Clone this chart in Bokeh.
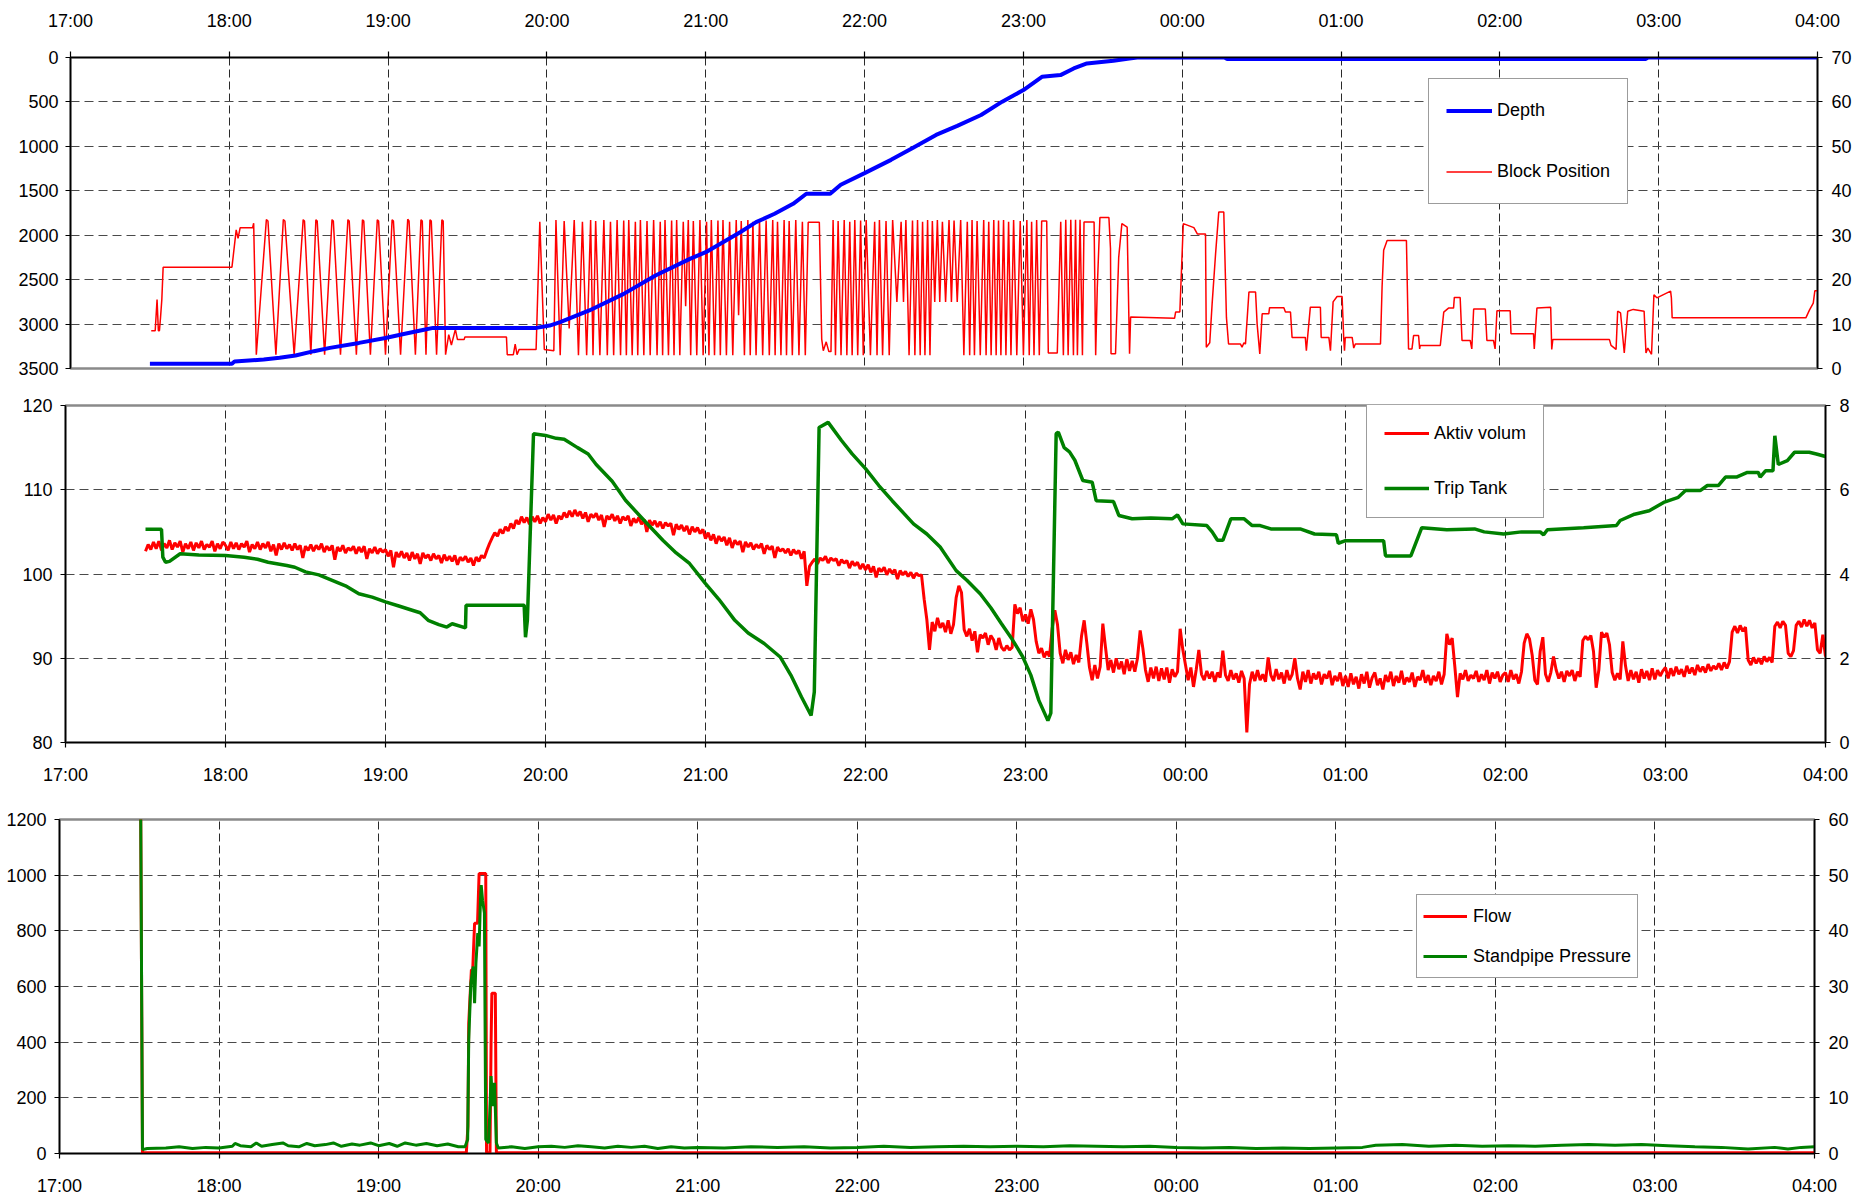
import numpy as np
from bokeh.plotting import figure
from bokeh.models import Range1d, LinearAxis, FixedTicker, Legend, LegendItem
from bokeh.embed import file_html
from bokeh.resources import INLINE

FONT = "Liberation Sans"
FS = "18px"

# ---------------- axis ticks / labels ----------------
HOUR_TICKS = list(range(12))  # hours after 17:00
HOUR_LABELS = ["17:00", "18:00", "19:00", "20:00", "21:00", "22:00",
               "23:00", "00:00", "01:00", "02:00", "03:00", "04:00"]
DEPTH_TICKS = [0, 500, 1000, 1500, 2000, 2500, 3000, 3500]
BLOCK_TICKS = [0, 10, 20, 30, 40, 50, 60, 70]
AKTIV_TICKS = [80, 90, 100, 110, 120]
TRIP_TICKS = [0, 2, 4, 6, 8]
FLOW_TICKS = [0, 200, 400, 600, 800, 1000, 1200]
SPP_TICKS = [0, 10, 20, 30, 40, 50, 60]

# ---------------- data (minutes after 17:00, value) ----------------
DEPTH = [(30, 3447), (61, 3447), (62, 3420), (73, 3399), (79, 3380), (85, 3354),
         (92, 3305), (98, 3268), (109, 3212), (119, 3156), (125, 3118), (134, 3062),
         (137, 3043), (176, 3043), (181, 3017), (185, 2979), (196, 2847), (209, 2660),
         (221, 2453), (234, 2266), (240, 2191), (253, 1966), (259, 1853), (266, 1759),
         (273, 1647), (278, 1533), (287, 1533), (291, 1432), (300, 1301), (310, 1152),
         (318, 1021), (327, 871), (335, 770), (344, 647), (352, 497), (360, 366),
         (367, 217), (374, 198), (379, 123), (384, 67), (394, 37), (400, 11), (403, 0),
         (436, 0), (437, 18), (595, 18), (596, 0), (660, 0)]

BLOCK_POS = [
    (30.5, 8.5), (32.0, 8.5), (32.7, 15.5), (33.2, 8.5), (33.6, 8.5), (34.0, 11.4),
    (34.5, 15.5), (35.0, 22.8), (61.0, 22.8), (62.6, 31.2), (63.3, 29.3), (64.1, 31.7),
    (68.8, 31.7), (69.2, 32.7), (70.2, 3.1),
    (74.0, 33.5), (74.6, 33.2), (77.6, 3.1), (80.4, 33.5), (81.0, 33.2), (84.5, 3.1),
    (87.9, 33.5), (88.4, 33.2), (90.8, 3.1), (92.7, 33.5), (93.2, 33.2), (96.0, 3.1),
    (98.8, 33.5), (99.3, 33.2), (102.0, 3.1), (104.8, 33.5), (105.3, 33.2), (108.0, 3.1),
    (110.3, 33.5), (110.8, 33.2), (113.3, 3.1), (115.9, 33.5), (116.4, 33.2), (119.0, 3.1),
    (121.5, 33.5), (122.0, 33.2), (124.7, 3.1), (127.4, 33.6), (127.9, 33.2), (130.3, 3.1),
    (132.4, 33.5), (132.9, 33.2), (134.3, 3.1), (135.8, 33.5), (136.3, 33.2), (138.3, 3.1),
    (140.3, 33.5), (140.8, 33.2), (141.7, 3.1),
    (142.9, 7.6), (143.9, 5.3), (145.4, 8.8), (146.2, 6.5), (148.7, 6.5), (149.0, 7.1),
    (164.7, 7.1), (165.0, 3.1), (167.3, 3.1), (168.0, 5.5), (168.7, 3.1), (169.5, 4.3),
    (175.9, 4.3), (177.3, 33.0), (179.0, 4.3), (182.6, 4.0),
    # dense tripping 20:00 - 21:40
    (183.4, 33.4), (185.0, 3.0), (186.5, 33.2), (188.4, 9.0), (190.3, 33.4), (191.9, 3.0),
    (193.4, 33.0), (195.0, 3.0), (196.5, 33.4), (197.4, 3.0), (198.4, 33.2), (200.0, 3.0),
    (201.5, 33.4), (202.8, 3.0), (204.0, 33.0), (205.2, 3.0), (206.5, 33.4), (207.8, 3.0),
    (209.0, 33.3), (210.0, 3.0), (210.9, 33.4), (212.2, 3.0), (213.4, 33.0), (214.3, 3.0),
    (215.3, 33.4), (216.6, 3.0), (217.8, 33.2), (219.0, 3.0), (220.3, 33.4), (221.6, 3.0),
    (222.8, 33.0), (223.7, 3.0), (224.6, 33.4), (225.9, 3.0), (227.1, 33.3), (228.0, 3.0),
    (229.0, 33.4), (230.2, 3.0), (231.5, 33.0), (232.4, 14.0), (233.4, 33.4), (234.3, 3.0),
    (235.3, 33.2), (236.6, 3.0), (237.8, 33.4), (239.0, 3.0), (240.3, 33.0), (241.2, 3.0),
    (242.1, 33.4), (243.3, 3.0), (244.6, 33.3), (245.5, 3.0), (246.5, 33.4), (247.8, 3.0),
    (249.0, 33.0), (250.2, 3.0), (251.5, 33.4), (252.4, 12.0), (253.4, 33.2), (254.6, 3.0),
    (255.9, 33.4), (256.8, 3.0), (257.8, 33.0), (259.0, 3.0), (260.3, 33.4), (261.5, 3.0),
    (262.8, 33.3), (264.0, 3.0), (265.3, 33.4), (266.2, 3.0), (267.1, 33.0), (268.4, 3.0),
    (269.6, 33.4), (270.5, 3.0), (271.5, 33.2), (272.7, 3.0), (274.0, 33.4), (275.2, 3.0),
    (276.5, 33.0), (277.6, 3.0), (278.7, 32.9), (282.9, 32.9), (283.8, 6.6), (284.4, 4.0),
    (285.5, 6.0), (286.5, 3.8), (287.3, 3.8),
    # dense tripping 21:47 - 23:10
    (288.1, 33.4), (289.0, 3.0), (290.0, 33.2), (291.1, 3.0), (292.3, 33.4), (293.3, 3.0),
    (294.4, 33.0), (295.3, 3.0), (296.3, 33.4), (297.4, 3.0), (298.5, 33.3), (299.5, 3.0),
    (300.6, 33.4), (302.2, 3.0), (303.8, 33.0), (304.7, 3.0), (305.6, 33.4), (306.8, 3.0),
    (308.1, 33.2), (309.3, 3.0), (310.6, 33.4), (312.2, 15.0), (313.8, 33.0), (314.7, 15.0),
    (315.6, 33.4), (316.8, 3.0), (318.1, 33.3), (319.0, 3.0), (320.0, 33.4), (321.0, 3.0),
    (321.9, 33.0), (322.8, 3.0), (323.8, 33.4), (324.7, 3.0), (325.6, 33.2), (326.5, 15.0),
    (327.5, 33.4), (328.4, 15.0), (329.4, 33.0), (330.6, 15.0), (331.9, 33.4), (332.8, 15.0),
    (333.8, 33.3), (335.0, 15.0), (336.3, 33.4), (337.5, 3.0), (338.8, 33.0), (339.7, 3.0),
    (340.6, 33.4), (341.5, 3.0), (342.5, 33.2), (343.7, 3.0), (345.0, 33.4), (345.9, 3.0),
    (346.9, 33.0), (347.8, 3.0), (348.8, 33.4), (349.7, 3.0), (350.6, 33.3), (351.5, 3.0),
    (352.5, 33.4), (353.4, 3.0), (354.4, 33.0), (355.3, 3.0), (356.3, 33.4), (357.5, 3.0),
    (358.8, 33.2), (360.0, 3.0), (361.3, 33.4), (362.2, 3.0), (363.1, 33.0), (364.0, 3.0),
    (365.0, 33.4), (366.0, 3.0), (366.9, 33.2), (368.8, 33.2), (369.4, 3.5), (372.8, 3.5),
    # 23:12 - 23:40
    (374.1, 33.0), (375.1, 3.0), (376.0, 33.5), (376.9, 3.0), (377.9, 33.5), (378.9, 3.0),
    (379.7, 33.5), (380.4, 3.0), (381.4, 33.5), (382.3, 3.0), (382.9, 33.0), (386.7, 33.0),
    (387.3, 3.0), (387.9, 18.0), (388.9, 34.0), (392.3, 34.0), (392.9, 27.0), (393.1, 3.3),
    (394.8, 3.3), (396.0, 25.0), (397.2, 32.6), (399.2, 31.8), (400.1, 3.3), (400.5, 11.6),
    # after 23:40
    (417.1, 11.3), (417.5, 12.7), (419.1, 12.7), (420.4, 32.6), (424.4, 31.7), (425.7, 30.3),
    (428.8, 30.3), (429.1, 4.8), (430.4, 5.8), (431.3, 14.6), (432.6, 25.8), (433.8, 35.2),
    (435.7, 35.2), (436.7, 11.5), (437.5, 5.5), (442.0, 5.5), (442.6, 4.8), (443.3, 5.8),
    (443.9, 5.5), (445.2, 17.2), (447.7, 17.2), (448.3, 10.0), (449.3, 3.3), (450.2, 12.3),
    (452.7, 12.3), (453.0, 13.7), (458.4, 13.7), (459.0, 12.7), (460.9, 12.7), (461.5, 7.0),
    (466.5, 7.0), (466.9, 4.0), (468.4, 13.8), (472.2, 13.8), (472.5, 7.0), (475.4, 7.0),
    (476.0, 4.0), (477.0, 15.0), (478.5, 16.2), (480.4, 16.2), (481.0, 7.0), (481.3, 4.0),
    (481.6, 7.0), (484.2, 7.0), (484.8, 4.6), (485.4, 5.5), (494.9, 5.5), (495.5, 18.3),
    (496.1, 26.6), (497.4, 28.8), (504.7, 28.8), (505.5, 4.4), (506.8, 4.4), (507.4, 7.4),
    (509.3, 7.4), (509.7, 4.4), (509.9, 5.2), (517.5, 5.2), (518.8, 12.7), (520.6, 13.6),
    (522.5, 13.6), (522.8, 16.0), (525.0, 16.0), (525.7, 6.3), (528.8, 6.3), (529.4, 4.4),
    (530.1, 13.4), (534.5, 13.4), (535.1, 6.3), (537.6, 6.3), (538.2, 4.4), (538.9, 13.0),
    (543.9, 13.0), (544.2, 7.8), (552.7, 7.8), (553.0, 4.4), (554.0, 13.6), (559.2, 13.8),
    (559.6, 4.3), (560.0, 6.5), (581.4, 6.5), (582.0, 5.2), (583.9, 4.3), (584.5, 12.9),
    (585.6, 12.5), (587.0, 3.5), (588.3, 12.9), (590.4, 13.3), (594.5, 12.9), (595.2, 3.5),
    (595.9, 4.6), (597.3, 3.2), (598.2, 16.6), (599.3, 15.9), (604.5, 17.4), (604.8, 15.9),
    (605.1, 11.4), (655.6, 11.4), (657.0, 13.2), (658.4, 14.7), (659.0, 17.5), (660.0, 17.5)]

# Aktiv volum, one reading per minute; each list starts at the minute (after 17:00) in its key
AKTIV_1730 = (30, [102.7, 103.5, 102.9, 103.8, 103.0, 103.9, 102.8, 103.6, 103.1, 104.0,
                   102.9, 103.7, 103.2, 103.9, 102.6, 103.6, 103.0, 103.8, 102.8, 103.7,
                   103.1, 103.9, 102.9, 103.5, 103.2, 103.9, 102.7, 103.6, 103.0, 103.8])
AKTIV_1800 = (60, [103.4, 102.8, 103.8, 103.0, 103.7, 102.9, 103.6, 103.2, 103.9, 102.6,
                   103.5, 103.0, 103.8, 102.9, 103.6, 103.1, 103.8, 102.7, 103.5, 102.2,
                   103.6, 102.9, 103.7, 103.0, 103.5, 102.8, 103.6, 102.9, 103.4, 101.9])
AKTIV_1830 = (90, [103.3, 102.8, 103.5, 102.7, 103.4, 102.9, 103.6, 102.6, 103.3, 102.8,
                   103.4, 101.7, 103.2, 102.7, 103.4, 102.5, 103.1, 102.8, 103.3, 102.4,
                   103.2, 102.6, 103.3, 101.8, 103.0, 102.5, 103.2, 102.4, 103.0, 102.6])
AKTIV_1900 = (120, [102.9, 102.1, 102.8, 100.8, 102.6, 102.0, 102.7, 101.9, 102.5, 101.6,
                    102.6, 101.8, 102.4, 101.2, 102.5, 101.9, 102.3, 101.6, 102.4, 101.8,
                    102.2, 101.3, 102.3, 101.6, 102.1, 101.5, 102.2, 101.1, 102.0, 101.6])
AKTIV_1930 = (150, [102.1, 101.4, 101.9, 101.0, 102.0, 101.5, 102.2, 101.9, 102.8, 103.6,
                    104.3, 104.9, 104.5, 105.3, 104.8, 105.6, 105.1, 106.0, 105.4, 106.4,
                    105.9, 106.8, 106.1, 106.7, 105.9, 106.8, 106.2, 106.9, 106.0, 106.7])
AKTIV_2000 = (180, [106.2, 107.1, 106.4, 107.0, 106.0, 106.9, 106.5, 107.3, 106.7, 107.5,
                    106.8, 107.6, 106.9, 107.4, 106.6, 107.3, 106.2, 107.1, 106.7, 107.2,
                    106.4, 107.0, 105.6, 106.9, 106.5, 107.1, 106.3, 106.9, 106.0, 106.8])
AKTIV_2030 = (210, [106.4, 106.9, 105.7, 106.6, 106.1, 106.7, 105.9, 106.5, 105.0, 106.4,
                    105.8, 106.3, 105.6, 106.2, 105.4, 106.1, 105.7, 106.0, 104.6, 105.9,
                    105.3, 105.8, 105.1, 105.7, 104.7, 105.6, 105.0, 105.5, 104.8, 105.3])
AKTIV_2100 = (240, [104.2, 104.9, 104.0, 104.7, 103.6, 104.5, 103.9, 104.4, 103.4, 104.3,
                    103.1, 104.0, 103.5, 103.9, 102.6, 103.8, 103.2, 103.7, 102.9, 103.5,
                    103.1, 103.6, 102.4, 103.4, 102.9, 103.3, 101.9, 103.2, 102.7, 103.0])
AKTIV_2130 = (270, [102.5, 103.0, 102.2, 102.9, 102.4, 102.8, 101.8, 102.7, 98.6, 100.9,
                    101.4, 101.8, 101.2, 101.9, 101.6, 102.1, 101.3, 101.9, 101.6, 101.8,
                    101.0, 101.7, 101.3, 101.6, 100.7, 101.5, 101.0, 101.4, 100.6, 101.2])
AKTIV_2200 = (300, [100.5, 101.1, 100.2, 100.9, 99.6, 100.7, 100.3, 100.8, 99.9, 100.6,
                    100.1, 100.5, 99.4, 100.4, 99.9, 100.3, 99.7, 100.2, 99.5, 100.1,
                    99.8, 99.9, 97.0, 94.6, 91.0, 94.3, 93.2, 94.8, 93.6, 94.2])
AKTIV_2230 = (330, [93.1, 94.5, 92.9, 94.0, 97.2, 98.6, 97.8, 93.4, 92.6, 93.5,
                    92.1, 93.2, 90.7, 92.8, 92.4, 93.0, 91.6, 92.7, 92.2, 91.0,
                    92.4, 91.3, 90.9, 91.5, 91.0, 91.3, 96.4, 95.3, 96.0, 94.4])
AKTIV_2300 = (360, [95.2, 94.1, 95.8, 94.6, 92.0, 90.6, 91.2, 90.1, 90.8, 90.2,
                    93.5, 95.7, 94.0, 90.6, 89.4, 91.0, 89.8, 90.7, 89.3, 90.4,
                    89.5, 92.6, 94.5, 91.8, 88.9, 87.4, 89.2, 87.6, 89.0, 94.1])
AKTIV_2330 = (390, [91.3, 88.6, 89.8, 88.3, 90.0, 88.7, 89.6, 88.1, 89.9, 88.5,
                    89.7, 88.4, 90.0, 93.3, 91.2, 88.6, 87.2, 88.9, 87.6, 89.0,
                    87.3, 88.8, 87.5, 88.9, 87.1, 88.7, 87.8, 88.4, 93.5, 91.0])
AKTIV_0000 = (420, [89.2, 87.4, 88.9, 86.6, 88.6, 91.0, 88.1, 87.4, 88.5, 87.6,
                    88.4, 87.2, 88.3, 87.7, 90.9, 88.0, 87.3, 88.6, 87.5, 88.2,
                    87.1, 88.5, 87.6, 81.2, 86.9, 88.4, 87.3, 88.6, 87.4, 88.1])
AKTIV_0030 = (450, [87.2, 90.1, 88.0, 87.3, 88.7, 87.5, 88.3, 87.0, 88.6, 87.4,
                    88.1, 90.0, 87.6, 86.3, 88.4, 87.2, 88.6, 87.0, 88.2, 87.5,
                    88.4, 86.9, 88.1, 87.6, 88.5, 86.8, 87.9, 87.3, 88.3, 86.7])
AKTIV_0100 = (480, [87.9, 86.6, 88.2, 86.9, 87.8, 86.4, 88.1, 87.0, 88.4, 86.5,
                    87.7, 88.3, 86.8, 87.6, 86.3, 88.0, 87.2, 88.4, 86.7, 87.9,
                    87.1, 88.5, 86.9, 87.7, 87.2, 88.3, 86.6, 87.8, 87.4, 88.6])
AKTIV_0130 = (510, [87.1, 88.0, 86.8, 87.9, 87.3, 88.4, 86.9, 88.1, 92.9, 91.6,
                    92.4, 89.0, 85.4, 88.2, 87.5, 88.6, 87.3, 88.0, 87.6, 88.5,
                    87.2, 88.1, 87.4, 88.6, 87.0, 88.3, 87.6, 88.4, 87.2, 88.0])
AKTIV_0200 = (540, [88.3, 87.2, 88.6, 87.5, 88.1, 87.0, 88.4, 91.8, 92.9, 92.3,
                    90.4, 87.4, 86.9, 90.8, 92.5, 88.1, 87.2, 88.3, 90.2, 88.6,
                    87.6, 88.4, 87.2, 88.5, 87.9, 88.6, 87.3, 88.4, 87.8, 92.1])
AKTIV_0230 = (570, [92.6, 92.2, 92.7, 90.8, 86.5, 88.6, 93.1, 92.5, 93.0, 91.6,
                    88.3, 87.4, 88.2, 87.5, 92.0, 89.1, 87.3, 88.6, 87.5, 88.4,
                    87.1, 88.7, 87.6, 88.5, 87.4, 88.8, 87.5, 88.6, 87.9, 88.5])
AKTIV_0300 = (600, [88.9, 87.6, 88.8, 87.9, 89.0, 88.1, 88.7, 87.8, 89.1, 88.2,
                    88.9, 88.0, 89.2, 88.4, 89.0, 88.3, 89.3, 88.5, 89.1, 88.7,
                    89.4, 88.6, 89.5, 88.8, 89.6, 93.1, 93.8, 93.0, 93.9, 93.2])
AKTIV_0330 = (630, [93.7, 89.8, 89.2, 90.1, 89.4, 90.0, 89.3, 90.2, 89.6, 90.1,
                    89.5, 93.8, 94.3, 93.6, 94.4, 93.9, 90.6, 90.2, 90.9, 93.9,
                    94.4, 93.7, 94.6, 93.8, 94.5, 93.6, 94.2, 91.0, 90.6, 92.8, 90.2])
AKTIV_BLOCKS = [AKTIV_1730, AKTIV_1800, AKTIV_1830, AKTIV_1900, AKTIV_1930, AKTIV_2000,
                AKTIV_2030, AKTIV_2100, AKTIV_2130, AKTIV_2200, AKTIV_2230, AKTIV_2300,
                AKTIV_2330, AKTIV_0000, AKTIV_0030, AKTIV_0100, AKTIV_0130, AKTIV_0200,
                AKTIV_0230, AKTIV_0300, AKTIV_0330]

TRIP_TANK = [
    (30, 5.06), (36, 5.06), (36.5, 4.4), (37.5, 4.28), (39, 4.3), (43, 4.48), (50, 4.45),
    (60, 4.44), (67, 4.4), (72, 4.35), (76, 4.28), (83, 4.2), (86, 4.16), (90, 4.05), (95, 3.98),
    (100, 3.85), (105, 3.72), (110, 3.53), (115, 3.45), (120, 3.34), (125, 3.24), (130, 3.14),
    (133, 3.08), (136, 2.9), (140, 2.8), (143, 2.74), (145, 2.82), (150, 2.72), (150.2, 3.26),
    (172, 3.26), (172.5, 2.5), (173.2, 2.9), (175.5, 7.33), (180, 7.29), (184, 7.22), (187, 7.2),
    (192, 7.0), (196, 6.85), (199, 6.6), (205, 6.2), (210, 5.75), (217, 5.27), (224, 4.8),
    (229, 4.5), (234, 4.25), (240, 3.77), (245, 3.4), (251, 2.9), (256, 2.6), (262, 2.35),
    (268, 2.03), (272, 1.6), (276, 1.08), (279.6, 0.64), (280.8, 1.2), (282.6, 7.48), (286, 7.6),
    (291, 7.17), (295, 6.85), (300, 6.5), (305, 6.1), (310, 5.74), (318, 5.19), (323, 4.95),
    (328, 4.64), (334, 4.08), (338, 3.85), (343, 3.53), (347, 3.2), (351, 2.82), (355, 2.45),
    (359, 2.03), (362, 1.6), (365, 1.0), (368.4, 0.52), (369.5, 0.7), (371.5, 7.33), (372.3, 7.37),
    (374.5, 7.0), (376.5, 6.9), (378.5, 6.7), (381.5, 6.22), (385, 6.18), (386.5, 5.74),
    (393, 5.72), (395, 5.39), (400, 5.31), (407, 5.33), (415, 5.31), (417, 5.4), (419, 5.19),
    (428, 5.15), (430, 5.0), (432, 4.8), (434, 4.8), (437, 5.31), (442, 5.31), (445, 5.15),
    (448, 5.15), (452, 5.07), (463, 5.07), (468.4, 4.95), (476.6, 4.93), (477.3, 4.73),
    (480, 4.79), (494.3, 4.79), (495, 4.43), (504.5, 4.43), (508.6, 5.1), (518, 5.05),
    (528.4, 5.07), (532, 5.0), (539.3, 4.95), (546, 5.0), (553, 5.0), (554.3, 4.93),
    (555.7, 5.05), (569.3, 5.1), (581.6, 5.15), (583, 5.27), (588.4, 5.42), (593.9, 5.5),
    (599.3, 5.7), (604.8, 5.82), (607.5, 5.98), (613, 5.98), (615.7, 6.1), (619.8, 6.1),
    (622.5, 6.3), (626.6, 6.3), (630.7, 6.41), (634.8, 6.41), (635.5, 6.3), (637.5, 6.45),
    (640.3, 6.45), (641, 7.28), (642.3, 6.6), (645.7, 6.69), (648.4, 6.89), (653.9, 6.89),
    (656.6, 6.85), (660, 6.79)]

FLOW = [
    (30.5, 1300), (31.2, 3), (153.0, 3), (153.6, 98), (153.9, 468), (154.9, 660), (155.4, 660),
    (156.1, 827), (157.2, 827), (157.8, 1006), (160.3, 1006), (160.6, 3), (161.9, 3),
    (162.3, 397), (162.6, 576), (163.9, 576), (164.3, 3), (660.0, 3)]

STANDPIPE = [
    (30.5, 65), (31.2, 0.7), (33, 0.9), (40, 1.0), (45, 1.2), (50, 0.9), (55, 1.1), (60, 1.0),
    (65, 1.3), (66, 1.8), (68, 1.4), (72, 1.2), (74, 1.9), (76, 1.3), (80, 1.6), (84, 1.9),
    (86, 1.4), (90, 1.2), (93, 1.8), (96, 1.4), (100, 1.6), (103, 1.9), (106, 1.3), (110, 1.7),
    (113, 1.5), (117, 1.9), (120, 1.4), (124, 1.8), (127, 1.3), (130, 1.9), (134, 1.5),
    (138, 1.8), (142, 1.4), (146, 1.7), (150, 1.2), (152.5, 1.2), (153.5, 2.5), (153.9, 20.4),
    (154.7, 30.6), (155.6, 33.6), (156.1, 27.0), (156.6, 34.2), (157.3, 39.6), (157.8, 37.2),
    (158.3, 45.5), (158.6, 48.2), (159.1, 45.5), (159.8, 43.2), (160.3, 2.5), (161.4, 1.9),
    (162.3, 13.9), (162.9, 8.5), (163.6, 12.7), (164.3, 1.9), (165, 1.0), (170, 1.2), (175, 0.9),
    (180, 1.2), (185, 1.3), (190, 1.1), (195, 1.4), (200, 1.2), (205, 1.0), (210, 1.3),
    (215, 1.1), (220, 1.3), (225, 0.9), (230, 1.2), (235, 1.0), (240, 1.1), (250, 1.0),
    (260, 1.2), (270, 1.1), (280, 1.2), (290, 1.0), (300, 1.1), (310, 1.3), (320, 1.1),
    (330, 1.2), (340, 1.3), (350, 1.2), (360, 1.3), (370, 1.2), (380, 1.4), (390, 1.3),
    (400, 1.2), (410, 1.3), (420, 1.1), (430, 1.0), (440, 1.1), (450, 0.9), (460, 1.0),
    (470, 0.9), (480, 1.0), (490, 1.1), (495, 1.5), (505, 1.6), (515, 1.3), (525, 1.5),
    (535, 1.3), (545, 1.4), (555, 1.3), (565, 1.5), (575, 1.6), (585, 1.5), (595, 1.6),
    (605, 1.4), (615, 1.2), (625, 1.1), (635, 0.8), (645, 1.1), (650, 0.8), (655, 1.1), (660, 1.2)]


def unzip(pairs):
    t = np.array([p[0] for p in pairs], dtype=float) / 60.0
    v = np.array([p[1] for p in pairs], dtype=float)
    return t, v


def style_axis(ax, ticks, labels=None, standoff=7, tick_out=5):
    ax.ticker = FixedTicker(ticks=ticks)
    ax.axis_line_color = "black"
    ax.axis_line_width = 1.5
    ax.major_tick_line_color = "black"
    ax.major_tick_line_width = 1.2
    ax.major_tick_out = tick_out
    ax.major_tick_in = 0
    ax.minor_tick_line_color = None
    ax.major_label_text_font = FONT
    ax.major_label_text_font_size = FS
    ax.major_label_text_color = "black"
    ax.major_label_standoff = standoff
    if labels is not None:
        ax.major_label_overrides = {t: l for t, l in zip(ticks, labels)}


def make_fig(h, left, right, top, bottom, yr, xloc):
    p = figure(width=1868, height=h, x_range=Range1d(0, 11), y_range=yr,
               output_backend="svg", toolbar_location=None, x_axis_location=xloc,
               min_border_left=left, min_border_right=right,
               min_border_top=top, min_border_bottom=bottom)
    p.outline_line_color = "#8a8a8a"
    p.outline_line_width = 2.5
    p.background_fill_color = "white"
    p.border_fill_color = "white"
    p.xgrid.grid_line_color = "#2a2a2a"
    p.xgrid.grid_line_dash = "8 4"
    p.xgrid.grid_line_width = 1
    p.ygrid.grid_line_color = "#4a4a4a"
    p.ygrid.grid_line_dash = "9 5"
    p.ygrid.grid_line_width = 1
    return p


def make_legend(items, loc, pad, h, spacing, gw, standoff):
    lg = Legend(items=items, location=loc, orientation="vertical")
    lg.border_line_color = "#3a3a3a"
    lg.border_line_width = 1.5
    lg.background_fill_color = "white"
    lg.background_fill_alpha = 1.0
    lg.padding = pad
    lg.margin = 0
    lg.spacing = spacing
    lg.label_height = h
    lg.glyph_height = h
    lg.glyph_width = gw
    lg.label_standoff = standoff
    lg.label_text_font = FONT
    lg.label_text_font_size = FS
    lg.label_text_color = "black"
    return lg


# ---------------- top panel: depth / block position ----------------
p1 = make_fig(390, 70, 51, 57, 22, Range1d(3500, 0), "above")
p1.extra_y_ranges = {"bp": Range1d(0, 70)}
ax_r1 = LinearAxis(y_range_name="bp")
p1.add_layout(ax_r1, "right")
style_axis(p1.xaxis[0], HOUR_TICKS, HOUR_LABELS, standoff=21, tick_out=6)
style_axis(p1.yaxis[0], DEPTH_TICKS)
style_axis(ax_r1, BLOCK_TICKS, standoff=9)

t, v = unzip(BLOCK_POS)
r_bp = p1.line(t, v, y_range_name="bp", line_color="#ff0000", line_width=1.5)
t, v = unzip(DEPTH)
r_dep = p1.line(t, v, line_color="#0000ff", line_width=4)
p1.add_layout(make_legend([LegendItem(label="Depth", renderers=[r_dep]),
                           LegendItem(label="Block Position", renderers=[r_bp])],
                          (1358, 164), 17, 29, 32, 46, 5))

# ---------------- middle panel: aktiv volum / trip tank ----------------
p2 = make_fig(410, 65, 43, 15, 58, Range1d(80, 120), "below")
p2.extra_y_ranges = {"tt": Range1d(0, 8)}
ax_r2 = LinearAxis(y_range_name="tt")
p2.add_layout(ax_r2, "right")
style_axis(p2.xaxis[0], HOUR_TICKS, HOUR_LABELS, standoff=17, tick_out=5)
style_axis(p2.yaxis[0], AKTIV_TICKS, standoff=8)
style_axis(ax_r2, TRIP_TICKS, standoff=9)

ta, va = [], []
for start, vals in AKTIV_BLOCKS:
    ta.extend((start + i) / 60.0 for i in range(len(vals)))
    va.extend(vals)
r_av = p2.line(ta, va, line_color="#ff0000", line_width=3)
t, v = unzip(TRIP_TANK)
r_tt = p2.line(t, v, y_range_name="tt", line_color="#008000", line_width=3.5)
p2.add_layout(make_legend([LegendItem(label="Aktiv volum", renderers=[r_av]),
                           LegendItem(label="Trip Tank", renderers=[r_tt])],
                          (1301, 224), 17, 24, 31, 45, 5))

# ---------------- bottom panel: flow / standpipe pressure ----------------
p3 = make_fig(398, 59, 54, 19, 44, Range1d(0, 1200), "below")
p3.extra_y_ranges = {"sp": Range1d(0, 60)}
ax_r3 = LinearAxis(y_range_name="sp")
p3.add_layout(ax_r3, "right")
style_axis(p3.xaxis[0], HOUR_TICKS, HOUR_LABELS, standoff=17, tick_out=5)
style_axis(p3.yaxis[0], FLOW_TICKS, standoff=8)
style_axis(ax_r3, SPP_TICKS, standoff=9)

t, v = unzip(FLOW)
r_fl = p3.line(t, v, line_color="#ff0000", line_width=3)
t, v = unzip(STANDPIPE)
r_sp = p3.line(t, v, y_range_name="sp", line_color="#008000", line_width=3)
p3.add_layout(make_legend([LegendItem(label="Flow", renderers=[r_fl]),
                           LegendItem(label="Standpipe Pressure", renderers=[r_sp])],
                          (1357, 175), 6, 30, 10, 44, 6))

# three independent roots, stacked, so each panel keeps its own frame geometry
open("out.html", "w").write(file_html([p1, p2, p3], INLINE))
